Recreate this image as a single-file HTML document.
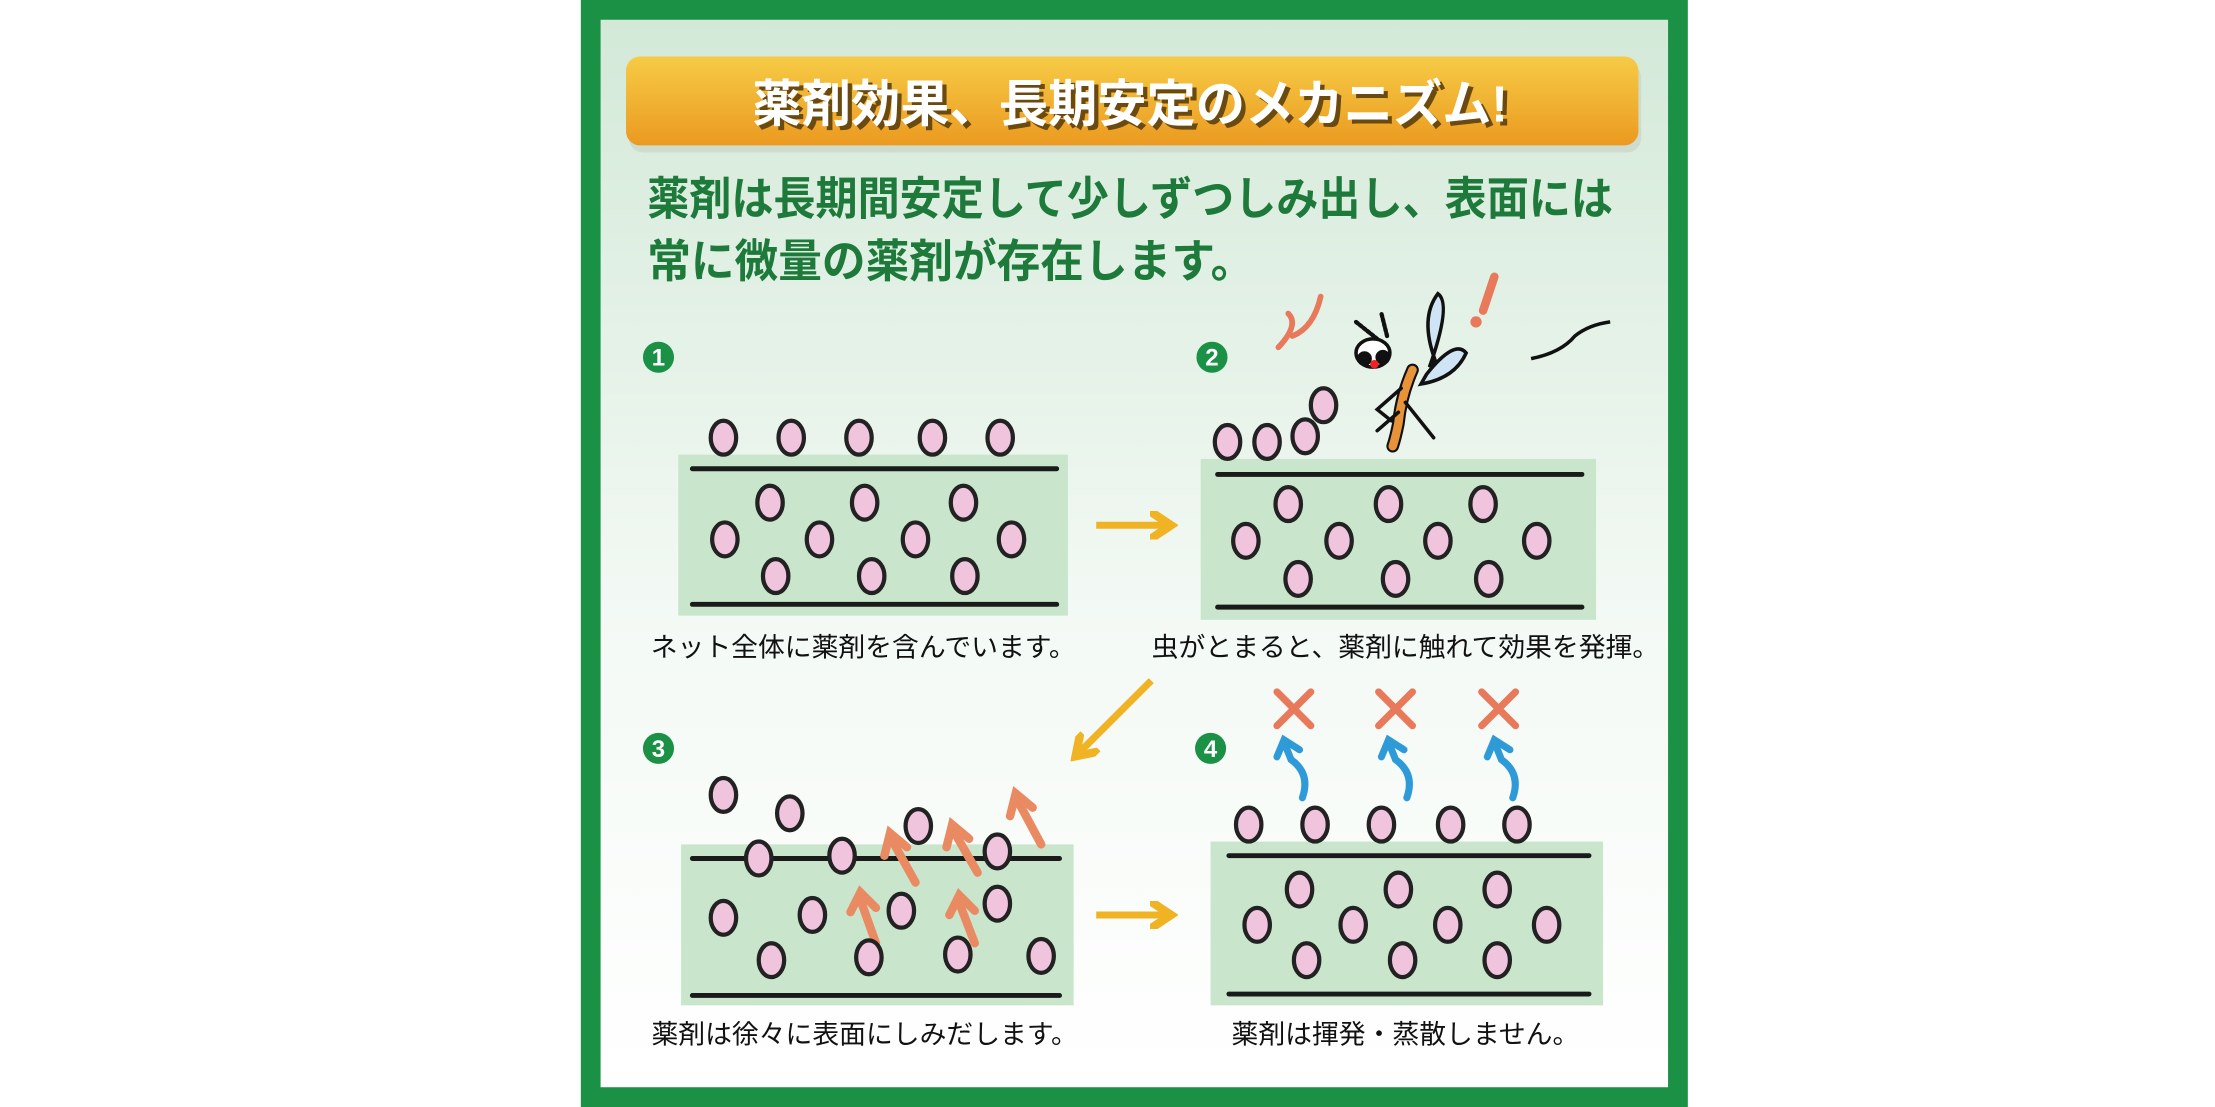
<!DOCTYPE html>
<html><head><meta charset="utf-8"><style>
html,body{margin:0;padding:0;background:#fff;width:2215px;height:1107px;overflow:hidden}
svg{display:block}
text{font-family:"Liberation Sans","Noto Sans CJK JP",sans-serif}
</style></head><body>
<svg width="2215" height="1107" viewBox="0 0 1568 784" xmlns="http://www.w3.org/2000/svg">
<defs>
<linearGradient id="bg" x1="0" y1="0" x2="0" y2="1"><stop offset="0" stop-color="#d3e9d8"/><stop offset="0.55" stop-color="#f3f9f4"/><stop offset="1" stop-color="#ffffff"/></linearGradient>
<linearGradient id="ban" x1="0" y1="0" x2="0" y2="1"><stop offset="0" stop-color="#f6cb45"/><stop offset="1" stop-color="#eb9a20"/></linearGradient>
<g id="ov"><ellipse rx="9" ry="12" fill="#f0c4dd" stroke="#222" stroke-width="3"/></g>
<marker id="ya" markerWidth="4" markerHeight="4" refX="2" refY="2" orient="auto" markerUnits="strokeWidth"><path d="M0,0 L3,2 L0,4" fill="none" stroke="#f0b323" stroke-width="1.2"/></marker>
</defs>
<rect x="411" y="0" width="784" height="784" fill="#1a9145"/>
<rect x="425" y="14" width="756" height="756" fill="url(#bg)"/>
<rect x="445" y="45" width="717" height="63" rx="10" fill="#c9d6c9" opacity="0.7"/>
<rect x="443" y="40" width="717" height="63" rx="10" fill="url(#ban)"/>
<text x="803" y="89" font-size="36" font-weight="bold" fill="#6b4a10" text-anchor="middle" textLength="535" lengthAdjust="spacingAndGlyphs">薬剤効果、長期安定のメカニズム!</text>
<text x="800" y="86" font-size="36" font-weight="bold" fill="#fff" text-anchor="middle" textLength="535" lengthAdjust="spacingAndGlyphs">薬剤効果、長期安定のメカニズム!</text>
<text x="458" y="152" font-size="32" font-weight="bold" fill="#1e7a3b" textLength="684" lengthAdjust="spacingAndGlyphs">薬剤は長期間安定して少しずつしみ出し、表面には</text>
<text x="458" y="196" font-size="32" font-weight="bold" fill="#1e7a3b" textLength="430" lengthAdjust="spacingAndGlyphs">常に微量の薬剤が存在します。</text>

<g font-size="17" font-weight="bold" fill="#fff" text-anchor="middle">
<circle cx="466" cy="253" r="11" fill="#1a9145"/><text x="466" y="259">1</text>
<circle cx="858" cy="253" r="11" fill="#1a9145"/><text x="858" y="259">2</text>
<circle cx="466" cy="530" r="11" fill="#1a9145"/><text x="466" y="536">3</text>
<circle cx="857" cy="530" r="11" fill="#1a9145"/><text x="857" y="536">4</text>
</g>

<g fill="#c9e6cd">
<rect x="480" y="322" width="276" height="114"/>
<rect x="850" y="325" width="280" height="114"/>
<rect x="482" y="598" width="278" height="114"/>
<rect x="857" y="596" width="278" height="116"/>
</g>
<g stroke="#1a1a1a" stroke-width="3.5" stroke-linecap="round">
<line x1="490" y1="332" x2="748" y2="332"/><line x1="490" y1="428" x2="748" y2="428"/>
<line x1="862" y1="336" x2="1120" y2="336"/><line x1="862" y1="430" x2="1120" y2="430"/>
<line x1="490" y1="608" x2="750" y2="608"/><line x1="490" y1="705" x2="750" y2="705"/>
<line x1="870" y1="606" x2="1125" y2="606"/><line x1="870" y1="704" x2="1125" y2="704"/>
</g>

<g>
<use href="#ov" x="512" y="310"/><use href="#ov" x="560" y="310"/><use href="#ov" x="608" y="310"/><use href="#ov" x="660" y="310"/><use href="#ov" x="708" y="310"/>
<use href="#ov" x="545" y="356"/><use href="#ov" x="612" y="356"/><use href="#ov" x="682" y="356"/>
<use href="#ov" x="513" y="382"/><use href="#ov" x="580" y="382"/><use href="#ov" x="648" y="382"/><use href="#ov" x="716" y="382"/>
<use href="#ov" x="549" y="408"/><use href="#ov" x="617" y="408"/><use href="#ov" x="683" y="408"/>
</g>
<g>
<use href="#ov" x="869" y="313"/><use href="#ov" x="897" y="313"/><use href="#ov" x="924" y="309"/><use href="#ov" x="937" y="287"/>
<use href="#ov" x="912" y="357"/><use href="#ov" x="983" y="357"/><use href="#ov" x="1050" y="357"/>
<use href="#ov" x="882" y="383"/><use href="#ov" x="948" y="383"/><use href="#ov" x="1018" y="383"/><use href="#ov" x="1088" y="383"/>
<use href="#ov" x="919" y="410"/><use href="#ov" x="988" y="410"/><use href="#ov" x="1054" y="410"/>
</g>
<g stroke="#ea8a63" stroke-width="6" fill="none" stroke-linecap="round">
<path d="M620,668 L610,640"/><path d="M602,646 L609,632 L620,643"/>
<path d="M690,668 L680,642"/><path d="M672,648 L679,634 L690,645"/>
<path d="M648,625 L633,598"/><path d="M626,606 L630,590 L642,600"/>
<path d="M692,618 L677,592"/><path d="M670,600 L674,584 L686,594"/>
<path d="M737,598 L722,570"/><path d="M715,578 L719,562 L731,572"/>
</g>
<g>
<use href="#ov" x="512" y="563"/><use href="#ov" x="559" y="576"/><use href="#ov" x="650" y="585"/><use href="#ov" x="706" y="603"/>
<use href="#ov" x="537" y="608"/><use href="#ov" x="596" y="606"/>
<use href="#ov" x="512" y="650"/><use href="#ov" x="575" y="648"/><use href="#ov" x="638" y="645"/><use href="#ov" x="706" y="640"/>
<use href="#ov" x="546" y="680"/><use href="#ov" x="615" y="678"/><use href="#ov" x="678" y="676"/><use href="#ov" x="737" y="677"/>
</g>
<g>
<use href="#ov" x="884" y="584"/><use href="#ov" x="931" y="584"/><use href="#ov" x="978" y="584"/><use href="#ov" x="1027" y="584"/><use href="#ov" x="1074" y="584"/>
<use href="#ov" x="920" y="630"/><use href="#ov" x="990" y="630"/><use href="#ov" x="1060" y="630"/>
<use href="#ov" x="890" y="655"/><use href="#ov" x="958" y="655"/><use href="#ov" x="1025" y="655"/><use href="#ov" x="1095" y="655"/>
<use href="#ov" x="925" y="680"/><use href="#ov" x="993" y="680"/><use href="#ov" x="1060" y="680"/>
</g>
<g stroke="#2f9ad8" stroke-width="5" fill="none" stroke-linecap="round">
<path d="M922,565 Q928,548 914,538 L910,528"/><path d="M904,536 L909,524 L920,531"/>
<path d="M996,565 Q1002,548 988,538 L984,528"/><path d="M978,536 L983,524 L994,531"/>
<path d="M1071,565 Q1077,548 1063,538 L1059,528"/><path d="M1053,536 L1058,524 L1069,531"/>
</g>
<g stroke="#e8795a" stroke-width="5" stroke-linecap="round">
<path d="M904,490 L928,514 M928,490 L904,514"/>
<path d="M976,490 L1000,514 M1000,490 L976,514"/>
<path d="M1049,490 L1073,514 M1073,490 L1049,514"/>
</g>

<g stroke="#f0b323" stroke-width="5" fill="none" marker-end="url(#ya)">
<line x1="776" y1="372" x2="824" y2="372"/>
<line x1="776" y1="648" x2="824" y2="648"/>
<line x1="815" y1="482" x2="765" y2="532"/>
</g>

<g stroke="#111" stroke-width="2.5" fill="none" stroke-linecap="round">
<path d="M1016,255 Q1005,225 1018,208 Q1028,215 1012,260 Z" fill="#cfe5f5"/>
<path d="M1010,265 Q1030,240 1038,250 Q1030,268 1006,272 Z" fill="#cfe5f5"/>
<path d="M1000,262 Q992,280 990,300 Q988,310 986,316" stroke-width="9" stroke="#111"/>
<path d="M1000,262 Q992,280 990,300 Q988,310 986,316" stroke-width="6" stroke="#e8923a"/>
<path d="M995,285 L1015,310 M990,292 L975,305 M992,275 L975,290 L985,298"/>
<path d="M975,240 L960,228 M982,238 L978,222" stroke-dasharray="2 1.5" stroke-width="3"/>
<ellipse cx="972" cy="250" rx="12" ry="10" fill="#fff"/>
<circle cx="966" cy="254" r="4" fill="#111"/><circle cx="979" cy="253" r="4" fill="#111"/>
</g>
<circle cx="973" cy="258" r="3" fill="#e22"/>
<path d="M1058,196 L1050,220" stroke="#e8795a" stroke-width="6" stroke-linecap="round"/>
<circle cx="1045" cy="228" r="4" fill="#e8795a"/>
<path d="M905,246 Q920,230 912,222 M915,238 Q930,232 935,210" stroke="#e8795a" stroke-width="4" fill="none" stroke-linecap="round"/>
<path d="M1084,254 Q1105,250 1115,238 Q1125,230 1140,228" stroke="#111" stroke-width="2.5" fill="none"/>

<g font-size="19" fill="#111" text-anchor="middle">
<text x="611" y="465">ネット全体に薬剤を含んでいます。</text>
<text x="995" y="465">虫がとまると、薬剤に触れて効果を発揮。</text>
<text x="612" y="739">薬剤は徐々に表面にしみだします。</text>
<text x="995" y="739">薬剤は揮発・蒸散しません。</text>
</g>
</svg>
</body></html>
